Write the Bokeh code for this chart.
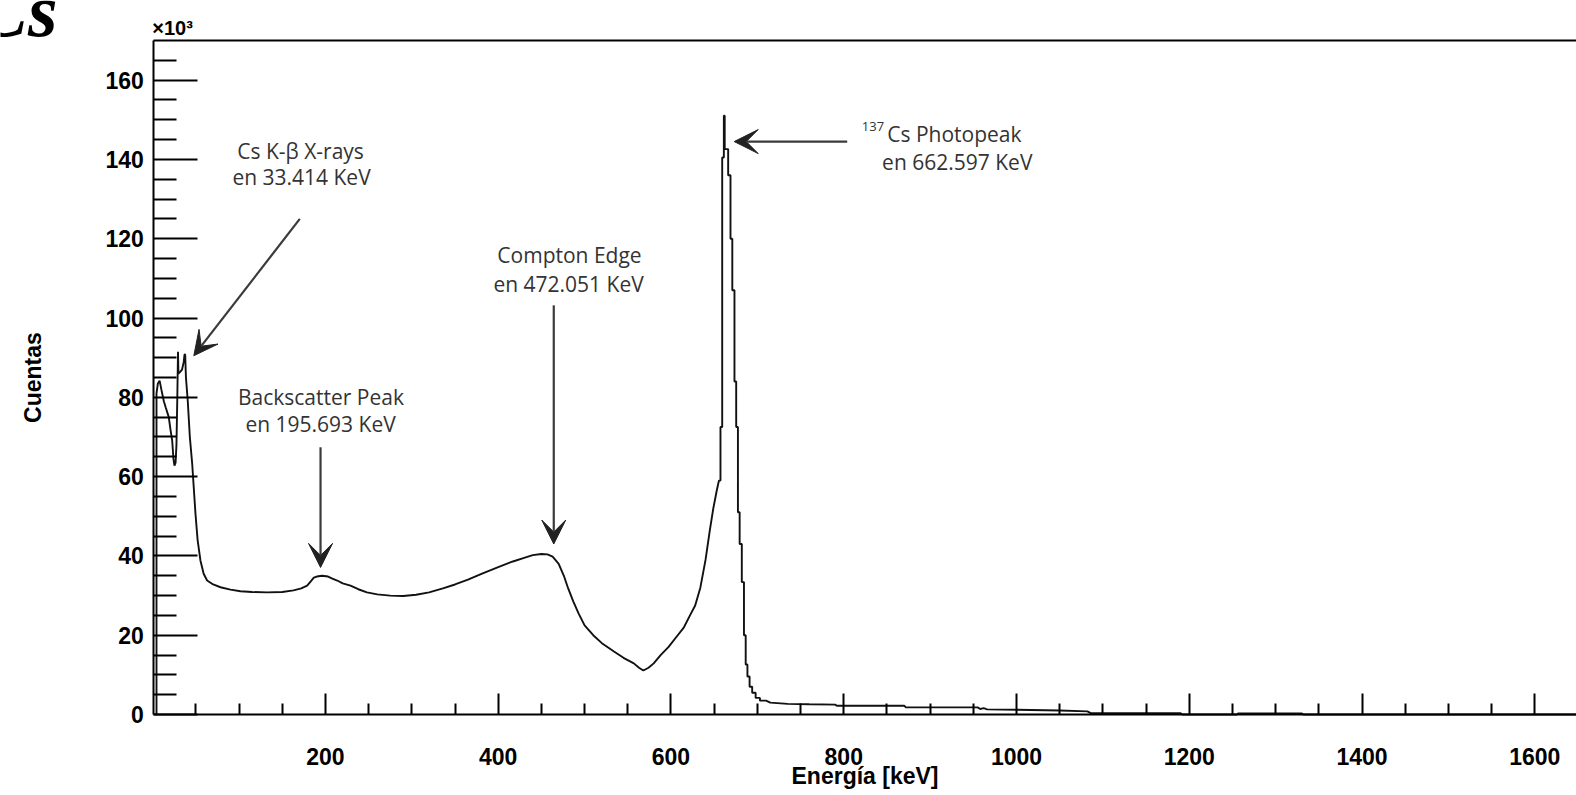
from bokeh.plotting import figure
from bokeh.models import Range1d, FixedTicker, LinearAxis, Label, Arrow, VeeHead
from bokeh.embed import file_html
from bokeh.resources import INLINE

# ---- spectrum (energy in keV, counts in units of 10^3) ----
energy_kev = [4.4, 4.4, 6, 8, 10, 12.9, 15, 18.6, 20.5, 22.6, 24, 25.2, 26.5, 27.5, 28.5, 29.3, 29.8,
              32, 34, 36, 36.8, 37.6, 38.5, 40.6, 43, 45.7, 49.5, 52, 55.3, 59, 63, 70, 78.5, 90,
              101.6, 115, 132.5, 150, 163, 172, 178.8, 183, 186.5, 190, 196, 203, 208, 213.6, 220,
              229, 238, 248, 260, 275, 290, 305, 320, 336, 350, 365, 382, 400, 417, 430, 440, 450,
              457, 463, 470, 476, 481, 487, 493, 500, 510, 520, 534, 545, 557, 563, 568, 574, 580,
              588, 597, 606, 615, 622, 628, 634, 640, 645, 649, 653, 655.5,
              657.3, 657.3, 659.3, 659.3, 661.2, 661.2, 662.2, 662.2, 666.2, 666.2, 668.9, 668.9,
              671, 671, 673.5, 673.5, 675.5, 675.5, 677.5, 677.5, 679.5, 679.5, 682, 682, 684.5,
              684.5, 686.5, 686.5, 688.5, 688.5, 691, 691, 694, 694, 698, 698, 703, 703, 710,
              715, 735, 760, 790, 792, 870, 872, 955, 958, 962, 966, 1000, 1050, 1082, 1086,
              1190, 1192, 1255, 1257, 1330, 1332, 1648]
counts_k = [0, 81, 83.5, 84.2, 82, 79, 77.5, 75, 72, 69, 64.5, 62.8, 63.5, 68, 80, 91.5, 86,
            86.5, 87, 89, 90.8, 90.8, 85, 79, 70, 63.3, 50.7, 44, 38.8, 35.5, 33.8, 32.8, 32.1, 31.5,
            31.1, 30.9, 30.8, 30.9, 31.3, 31.8, 32.5, 33.6, 34.5, 34.8, 35.0, 34.8, 34.3, 33.8, 33.1,
            32.5, 31.6, 30.8, 30.3, 30.0, 29.9, 30.2, 30.8, 31.8, 32.8, 34.0, 35.6, 37.2, 38.6, 39.5, 40.2, 40.5,
            40.4, 39.8, 38.0, 35.0, 31.8, 28.5, 25.5, 22.5, 20.0, 18.0, 15.9, 14.3, 12.9, 11.8, 11.1, 11.8, 12.9,
            15.0, 17.0, 19.5, 22.0, 25.0, 27.5, 32.0, 39.0, 46.5, 52.0, 56.5, 59,
            59, 72.5, 72.5, 140.5, 140.5, 151, 151, 142.6, 142.6, 136, 136, 120,
            120, 107, 107, 84, 84, 72.5, 72.5, 51, 51, 43, 43, 33.4, 33.4,
            20, 20, 12.6, 12.6, 9.6, 9.6, 7.0, 7.0, 5.5, 5.5, 4.2, 4.2, 3.5, 3.5,
            3.0, 2.7, 2.6, 2.5, 2.2, 2.2, 1.8, 1.8, 1.4, 1.6, 1.3, 1.2, 1.0, 0.8, 0.35,
            0.35, 0, 0, 0.3, 0.3, 0, 0]

# ---- axes ----
x_major = list(range(200, 1601, 200))
x_minor = [m for m in range(50, 1648, 50) if m % 200]
y_major = list(range(0, 161, 20))
y_minor = [m for m in range(5, 170, 5) if m % 20]
x_axis_start, x_axis_end = 1.3, 1648.3
y_axis_start, y_axis_end = 0, 170.0

# ---- annotations ----
ann_line1 = ["Cs K-\u03b2 X-rays", "Backscatter Peak", "Compton Edge"]
ann_line2 = ["en 33.414 KeV", "en 195.693 KeV", "en 472.051 KeV"]
ann_x1 = [171.2, 194.8, 482.5]
ann_y1 = [142.2, 80.0, 115.8]
ann_x2 = [172.3, 194.3, 481.4]
ann_y2 = [135.5, 73.3, 108.6]
arrow_start = [(170.3, 125.0), (194.3, 67.4), (464.3, 103.2), (804.0, 144.5)]
arrow_end = [(47.6, 90.5), (194.3, 37.1), (464.3, 43.0), (673.2, 144.5)]

p = figure(width=1576, height=795, output_backend="svg", toolbar_location=None,
           x_range=Range1d(-176.2, 1648.3), y_range=Range1d(-20.42, 180.08),
           x_axis_location=None, y_axis_location=None,
           min_border_left=0, min_border_right=0, min_border_top=0, min_border_bottom=0)
p.outline_line_color = None
p.xgrid.visible = False
p.ygrid.visible = False
p.background_fill_color = "white"
p.border_fill_color = "white"

p.line(energy_kev, counts_k, line_color="#111111", line_width=1.9)

xaxis = LinearAxis(fixed_location=0, bounds=(x_axis_start, x_axis_end),
                   ticker=FixedTicker(ticks=x_major, minor_ticks=x_minor),
                   axis_label="Energía [keV]")
yaxis = LinearAxis(fixed_location=x_axis_start, bounds=(y_axis_start, y_axis_end),
                   ticker=FixedTicker(ticks=y_major, minor_ticks=y_minor),
                   axis_label="Cuentas")
topaxis = LinearAxis(fixed_location=y_axis_end, bounds=(x_axis_start, x_axis_end),
                     ticker=FixedTicker(ticks=[], minor_ticks=[]),
                     major_label_text_font_size="0px")

for ax in (xaxis, yaxis, topaxis):
    ax.axis_line_width = 2
    ax.axis_line_color = "black"
    ax.major_tick_line_width = 2
    ax.minor_tick_line_width = 2
    ax.major_tick_line_color = "black"
    ax.minor_tick_line_color = "black"
    ax.major_tick_out = 0
    ax.minor_tick_out = 0
    ax.major_label_text_font = "Liberation Sans"
    ax.major_label_text_font_style = "bold"
    ax.major_label_text_color = "black"
    ax.axis_label_text_font = "Liberation Sans"
    ax.axis_label_text_font_style = "bold"
    ax.axis_label_text_font_size = "23px"
    ax.axis_label_text_color = "black"
xaxis.major_label_text_font_size = "23px"
yaxis.major_label_text_font_size = "23px"
topaxis.major_tick_in = 0
topaxis.minor_tick_in = 0

xaxis.major_tick_in = 21
xaxis.minor_tick_in = 11
yaxis.major_tick_in = 44
yaxis.minor_tick_in = 23
xaxis.major_label_standoff = 33
yaxis.major_label_standoff = 10
xaxis.axis_label_standoff = -5
yaxis.axis_label_standoff = 56

p.add_layout(xaxis, "below")
p.add_layout(yaxis, "left")
p.add_layout(topaxis, "above")

# exponent label
p.add_layout(Label(x=-0.5, y=173.1, text="\u00d710\u00b3", text_font="Liberation Sans",
                   text_font_style="bold", text_font_size="20px", text_baseline="middle",
                   text_align="left", text_color="black"))

# cut title fragment (top-left corner of the source page)
p.add_layout(Label(x=-110.2, y=177.8, text="Cs", text_font="Liberation Serif",
                   text_font_style="bold italic", text_font_size="76px",
                   text_baseline="middle", text_align="right", text_color="black"))

txt_color = "#333333"
for t, x, y in zip(ann_line1, ann_x1, ann_y1):
    p.add_layout(Label(x=x, y=y, text=t, text_font="Open Sans", text_font_size="21px",
                       text_align="center", text_baseline="middle", text_color=txt_color))
for t, x, y in zip(ann_line2, ann_x2, ann_y2):
    p.add_layout(Label(x=x, y=y, text=t, text_font="Open Sans", text_font_size="21px",
                       text_align="center", text_baseline="middle", text_color=txt_color))

# photopeak label with superscript mass number
p.add_layout(Label(x=833.9, y=148.3, text="137", text_font="Open Sans", text_font_size="13px",
                   text_align="center", text_baseline="middle", text_color=txt_color))
p.add_layout(Label(x=850.3, y=146.5, text="Cs Photopeak", text_font="Open Sans", text_font_size="21px",
                   text_align="left", text_baseline="middle", text_color=txt_color))
p.add_layout(Label(x=931.4, y=139.3, text="en 662.597 KeV", text_font="Open Sans", text_font_size="21px",
                   text_align="center", text_baseline="middle", text_color=txt_color))

for (xs, ys), (xe, ye) in zip(arrow_start, arrow_end):
    p.add_layout(Arrow(end=VeeHead(size=24, fill_color="#222222", line_color="#222222", line_width=1),
                       x_start=xs, y_start=ys, x_end=xe, y_end=ye,
                       line_color="#3a3a3a", line_width=2.2))

open("out.html", "w").write(file_html(p, INLINE))
